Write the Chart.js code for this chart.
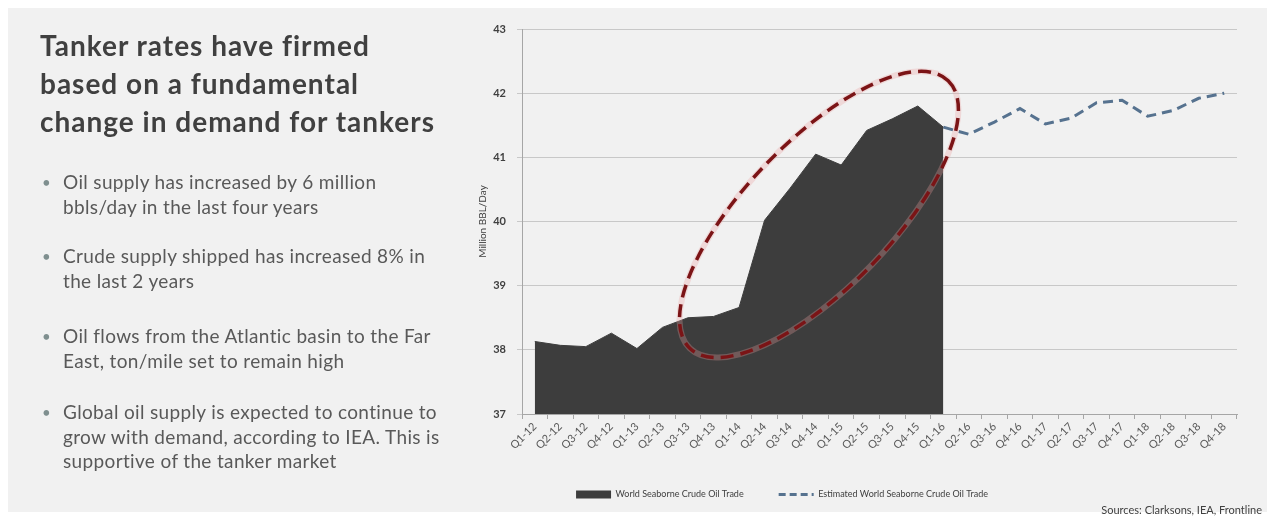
<!DOCTYPE html>
<html>
<head>
<meta charset="utf-8">
<title>World Seaborne Crude Oil Trade</title>
<script src="https://cdn.jsdelivr.net/npm/chart.js@4.4.0/dist/chart.umd.min.js"></script>
<style>
  html, body { margin: 0; padding: 0; background: #fff; }
  body { width: 1267px; height: 522px; position: relative; overflow: hidden; font-family: Lato, "Open Sans", sans-serif; }
  #panel { position: absolute; left: 8px; top: 8px; right: 0; bottom: 10px; background: #f1f1f1; }
  #chartBox { position: absolute; left: 327px; top: 0; width: 940px; height: 522px; }
  .title { position: absolute; left: 40px; top: 26px; font-size: 28px; font-weight: bold; color: #404040; line-height: 38px; letter-spacing: 1px; z-index: 2; }
  .bullet { position: absolute; left: 63px; font-size: 19px; color: #595959; line-height: 24.5px; letter-spacing: 0.35px; z-index: 2; }
  .bullet::before { content: "\2022"; position: absolute; left: -21px; font-size: 15px; color: #7f8f8f; }
  #sources { position: absolute; right: 5px; top: 503px; font-size: 11px; color: #404040; }
</style>
</head>
<body>
<div id="panel"></div>

<div class="title">Tanker rates have firmed<br>based on a fundamental<br>change in demand for tankers</div>
<div class="bullet" style="top:170px">Oil supply has increased by 6 million<br>bbls/day in the last four years</div>
<div class="bullet" style="top:244px">Crude supply shipped has increased 8% in<br>the last 2 years</div>
<div class="bullet" style="top:324px">Oil flows from the Atlantic basin to the Far<br>East, ton/mile set to remain high</div>
<div class="bullet" style="top:400px">Global oil supply is expected to continue to<br>grow with demand, according to IEA. This is<br>supportive of the tanker market</div>

<div id="chartBox"><canvas id="tradeChart"></canvas></div>
<div id="sources">Sources: Clarksons, IEA, Frontline</div>

<script>
// quarters on the x axis
const quarters = [
    'Q1-12', 'Q2-12', 'Q3-12', 'Q4-12', 'Q1-13', 'Q2-13', 'Q3-13', 'Q4-13',
    'Q1-14', 'Q2-14', 'Q3-14', 'Q4-14', 'Q1-15', 'Q2-15', 'Q3-15', 'Q4-15',
    'Q1-16', 'Q2-16', 'Q3-16', 'Q4-16', 'Q1-17', 'Q2-17', 'Q3-17', 'Q4-17',
    'Q1-18', 'Q2-18', 'Q3-18', 'Q4-18'
];

// Million BBL/Day, actual (area) and estimated (dashed line)
const seaborneTrade = [
    38.13, 38.07, 38.05, 38.26, 38.02, 38.35, 38.50, 38.52,
    38.66, 40.02, 40.52, 41.05, 40.88, 41.42, 41.60, 41.80,
    41.47, null, null, null, null, null, null, null,
    null, null, null, null
];
const estimatedTrade = [
    null, null, null, null, null, null, null, null,
    null, null, null, null, null, null, null, null,
    41.47, 41.36, 41.55, 41.76, 41.52, 41.61, 41.85, 41.89,
    41.64, 41.73, 41.92, 42.00
];

const yTicks = [37, 38, 39, 40, 41, 42, 43];

const areaColor = '#3d3d3d';
const lineColor = '#56728f';

// red dashed ellipse drawn over the growth period
const highlightEllipse = {
    id: 'highlightEllipse',
    afterDatasetsDraw(chart, args, opts) {
        const { ctx, scales: { x, y } } = chart;
        const cx = x.getPixelForValue(opts.centerIndex);
        const cy = y.getPixelForValue(opts.centerValue);
        ctx.save();
        ctx.translate(cx, cy);
        ctx.rotate(opts.rotation * Math.PI / 180);
        ctx.beginPath();
        ctx.ellipse(0, 0, opts.rx, opts.ry, 0, 0, 2 * Math.PI);
        ctx.strokeStyle = 'rgba(235, 160, 160, 0.3)';
        ctx.lineWidth = 6;
        ctx.stroke();
        ctx.setLineDash([13, 7]);
        ctx.strokeStyle = opts.color;
        ctx.lineWidth = 3.5;
        ctx.stroke();
        ctx.restore();
    }
};

new Chart(document.getElementById('tradeChart'), {
    type: 'line',
    data: {
        labels: quarters,
        datasets: [
            {
                label: 'World Seaborne Crude Oil Trade',
                data: seaborneTrade,
                fill: 'start',
                backgroundColor: areaColor,
                borderColor: areaColor,
                borderWidth: 1,
                pointRadius: 0,
                tension: 0
            },
            {
                label: 'Estimated World Seaborne Crude Oil Trade',
                data: estimatedTrade,
                fill: false,
                borderColor: lineColor,
                borderWidth: 3,
                borderDash: [10, 6],
                pointRadius: 0,
                tension: 0
            }
        ]
    },
    options: {
        responsive: true,
        maintainAspectRatio: false,
        animation: false,
        layout: { padding: { left: 0, right: 30, top: 29, bottom: 13 } },
        scales: {
            x: {
                offset: true,
                grid: { offset: true, drawOnChartArea: false, drawTicks: true, tickLength: 5, color: '#a6a6a6' },
                border: { color: '#a6a6a6' },
                ticks: {
                    autoSkip: false, minRotation: 45, maxRotation: 45, padding: 1,
                    color: '#595959', font: { family: 'Lato', size: 11 }
                },
                afterFit: scale => { scale.height = 41; }
            },
            y: {
                min: 37,
                max: 43,
                afterBuildTicks: scale => { scale.ticks = yTicks.map(v => ({ value: v })); },
                grid: { color: '#c8c8c8', tickLength: 5 },
                border: { color: '#a6a6a6' },
                ticks: { color: '#404040', padding: 11, font: { family: 'Lato', size: 11, weight: 'bold' } },
                title: {
                    display: true,
                    text: 'Million BBL/Day',
                    color: '#404040',
                    font: { family: 'Lato', size: 10 },
                    padding: { top: 150, bottom: 0 }
                },
                afterFit: scale => { scale.width = 195; }
            }
        },
        plugins: {
            legend: {
                position: 'bottom',
                labels: {
                    usePointStyle: true,
                    pointStyleWidth: 35,
                    boxHeight: 8,
                    padding: 35,
                    color: '#404040',
                    font: { family: 'Lato', size: 9 },
                    generateLabels: chart => chart.data.datasets.map((ds, i) => ({
                        text: ds.label,
                        datasetIndex: i,
                        hidden: false,
                        pointStyle: i === 0 ? 'rect' : 'line',
                        fillStyle: i === 0 ? areaColor : 'transparent',
                        strokeStyle: i === 0 ? areaColor : lineColor,
                        lineWidth: i === 0 ? 0 : 3,
                        lineDash: i === 0 ? [] : [7, 4],
                        fontColor: '#404040'
                    }))
                }
            },
            tooltip: { enabled: false },
            highlightEllipse: {
                centerIndex: 11.13,
                centerValue: 40.11,
                rx: 186,
                ry: 73,
                rotation: -46,
                color: '#7b1416'
            }
        }
    },
    plugins: [highlightEllipse]
});
</script>
</body>
</html>
